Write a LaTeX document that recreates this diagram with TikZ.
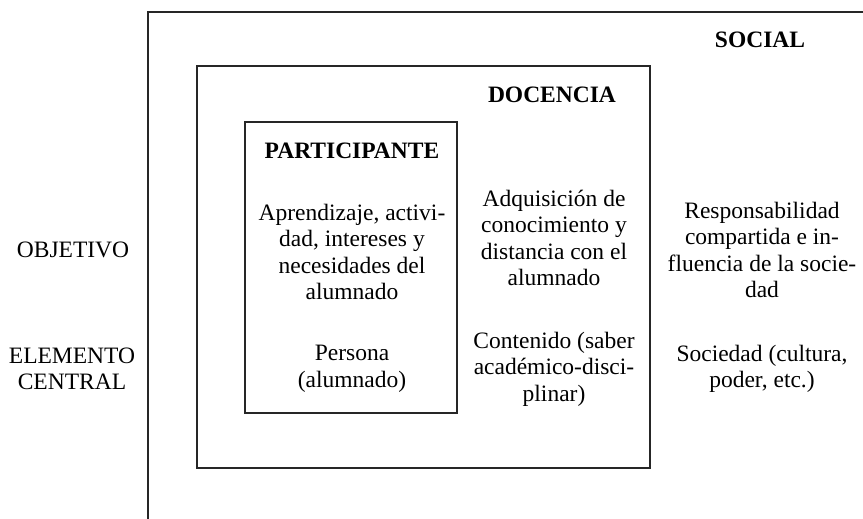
\documentclass[tikz,border=0pt]{standalone}
\usepackage{fontspec}
\setmainfont{Liberation Serif}
\tikzset{
  marco/.style={line width=2.4pt, color=black!85},
  texto/.style={align=center, inner sep=0pt, font=\fontsize{23.5}{26.5}\selectfont},
  titulo/.style={texto, font=\fontsize{23.5}{26.5}\selectfont\bfseries}
}
\begin{document}
\begin{tikzpicture}[x=1pt, y=-1pt]
    \useasboundingbox (0, 0) rectangle (863, 519);
    % social frame
    \draw [marco] (148, 519) -- (148, 12) -- (863, 12);
    % docencia frame
    \draw [marco] (197, 66) rectangle (650, 468);
    % participante frame
    \draw [marco] (245, 122) rectangle (457, 413);
    % titles
    \node [titulo] (social) at (760, 40) {SOCIAL};
    \node [titulo] (docencia) at (552, 95) {DOCENCIA};
    \node [titulo] (participante) at (352, 151) {PARTICIPANTE};
    % row labels
    \node [texto] (obj) at (73, 250) {OBJETIVO};
    \node [texto] (elem) at (72, 369) {ELEMENTO\\CENTRAL};
    % participante column
    \node [texto] (partObj) at (352, 252) {Aprendizaje, activi-\\dad, intereses y\\necesidades del\\alumnado};
    \node [texto] (partElem) at (352, 369) {Persona\\(alumnado)};
    % docencia column
    \node [texto] (docObj) at (554, 238) {Adquisición de\\conocimiento y\\distancia con el\\alumnado};
    \node [texto] (docElem) at (554, 369) {Contenido (saber\\académico-disci-\\plinar)};
    % social column
    \node [texto] (socObj) at (762, 250) {Responsabilidad\\compartida e in-\\fluencia de la socie-\\dad};
    \node [texto] (socElem) at (762, 369) {Sociedad (cultura,\\poder, etc.)};
  \end{tikzpicture}
\end{document}
